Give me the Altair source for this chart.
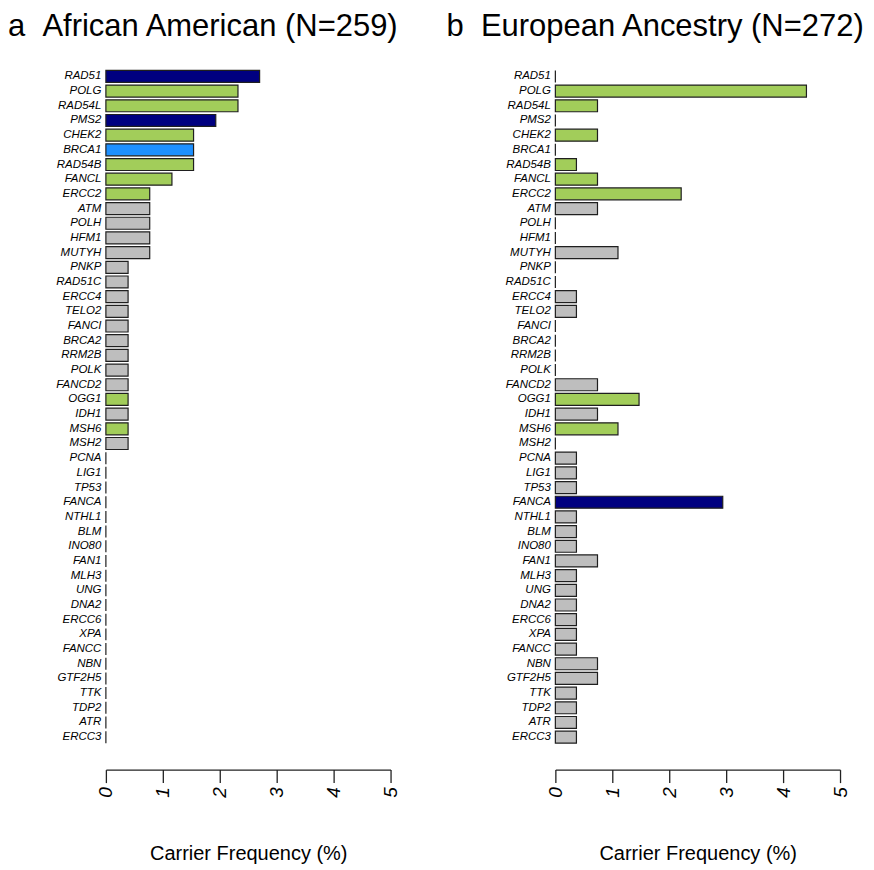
import altair as alt
import pandas as pd

genes = ["RAD51", "POLG", "RAD54L", "PMS2", "CHEK2", "BRCA1", "RAD54B", "FANCL",
         "ERCC2", "ATM", "POLH", "HFM1", "MUTYH", "PNKP", "RAD51C", "ERCC4",
         "TELO2", "FANCI", "BRCA2", "RRM2B", "POLK", "FANCD2", "OGG1", "IDH1",
         "MSH6", "MSH2", "PCNA", "LIG1", "TP53", "FANCA", "NTHL1", "BLM",
         "INO80", "FAN1", "MLH3", "UNG", "DNA2", "ERCC6", "XPA", "FANCC",
         "NBN", "GTF2H5", "TTK", "TDP2", "ATR", "ERCC3"]

gene_group = ["G1", "G3", "G3", "G1", "G3", "G2", "G3", "G3",
              "G3", "G4", "G4", "G4", "G4", "G4", "G4", "G4",
              "G4", "G4", "G4", "G4", "G4", "G4", "G3", "G4",
              "G3", "G4", "G4", "G4", "G4", "G1", "G4", "G4",
              "G4", "G4", "G4", "G4", "G4", "G4", "G4", "G4",
              "G4", "G4", "G4", "G4", "G4", "G4"]

# Carrier frequency (%), African American (N=259)
aa_pct = [2.70, 2.32, 2.32, 1.93, 1.54, 1.54, 1.54, 1.16,
          0.77, 0.77, 0.77, 0.77, 0.77, 0.39, 0.39, 0.39,
          0.39, 0.39, 0.39, 0.39, 0.39, 0.39, 0.39, 0.39,
          0.39, 0.39, 0, 0, 0, 0, 0, 0,
          0, 0, 0, 0, 0, 0, 0, 0,
          0, 0, 0, 0, 0, 0]

# Carrier frequency (%), European Ancestry (N=272)
ea_pct = [0, 4.41, 0.74, 0, 0.74, 0, 0.37, 0.74,
          2.21, 0.74, 0, 0, 1.10, 0, 0, 0.37,
          0.37, 0, 0, 0, 0, 0.74, 1.47, 0.74,
          1.10, 0, 0.37, 0.37, 0.37, 2.94, 0.37, 0.37,
          0.37, 0.74, 0.37, 0.37, 0.37, 0.37, 0.37, 0.37,
          0.74, 0.74, 0.37, 0.37, 0.37, 0.37]

group_names = ["G1", "G2", "G3", "G4"]
group_colors = ["#000080", "#1E90FF", "#A2CD5A", "#BEBEBE"]

x_ticks = [0, 1, 2, 3, 4, 5]

FONT = "Liberation Sans"


def panel(values, title, dx):
    df = pd.DataFrame({"gene": genes, "pct": values, "grp": gene_group})
    return (
        alt.Chart(
            df,
            title=alt.Title(title, anchor="start", frame="group", dx=dx,
                            fontSize=31, font=FONT, fontWeight="normal",
                            color="black", offset=1),
        )
        .mark_bar(stroke="#1f1f1f", strokeWidth=1.2)
        .encode(
            y=alt.Y("gene:N", sort=genes,
                    scale=alt.Scale(paddingInner=0.184, paddingOuter=0.092,
                                    range=[24.65, 700.85]),
                    axis=alt.Axis(title=None, ticks=False, domain=False,
                                  labelFont=FONT, labelFontStyle="italic",
                                  labelFontSize=11.5, labelColor="black",
                                  labelPadding=5)),
            x=alt.X("pct:Q",
                    scale=alt.Scale(domain=[0, 5], nice=False, zero=True),
                    axis=alt.Axis(values=x_ticks, title="Carrier Frequency (%)",
                                  labelAngle=270, tickSize=13, labelPadding=4,
                                  labelFont=FONT, labelFontStyle="italic",
                                  labelFontSize=19, labelColor="black",
                                  titleFont=FONT, titleFontSize=20,
                                  titleFontWeight="normal", titleColor="black",
                                  titlePadding=46, grid=False,
                                  domainColor="#222222", tickColor="#222222",
                                  domainWidth=1.3, tickWidth=1.3)),
            color=alt.Color("grp:N",
                            scale=alt.Scale(domain=group_names, range=group_colors),
                            legend=None),
        )
        .properties(width=285, height=726)
    )


left = panel(aa_pct, "a\u00a0\u00a0African American (N=259)", -98)
right = panel(ea_pct, "b\u00a0\u00a0European Ancestry (N=272)", -109)

chart = (
    alt.hconcat(left, right, spacing=46)
    .properties(padding={"top": 3, "left": 0, "right": 0, "bottom": 0})
    .configure_view(stroke=None)
)

chart.save("out.html", embed_options={"renderer": "svg", "actions": False})
